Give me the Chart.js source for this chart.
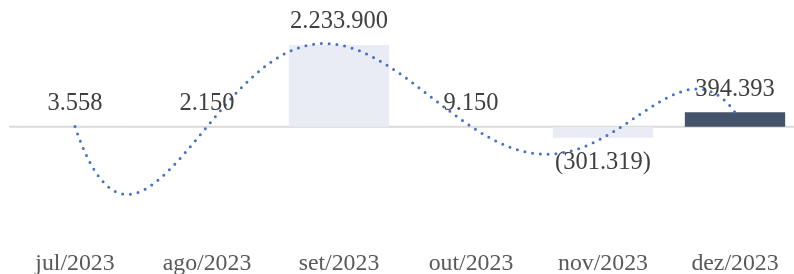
<!DOCTYPE html>
<html>
<head>
<meta charset="utf-8">
<script src="https://cdn.jsdelivr.net/npm/chart.js@4"></script>
<style>
  html, body { margin: 0; padding: 0; overflow: hidden; background: #fff; }
  #wrap { width: 801px; height: 274px; }
</style>
</head>
<body>
<div id="wrap"><canvas id="myChart"></canvas></div>
<script>
// data
var months = ['jul/2023', 'ago/2023', 'set/2023', 'out/2023', 'nov/2023', 'dez/2023'];
var values = [3558, 2150, 2233900, 9150, -301319, 394393];
var barColors = ['#E9EBF5', '#E9EBF5', '#E9EBF5', '#E9EBF5', '#E9EBF5', '#44546A'];

function fmt(v) {
  var s = Math.abs(v).toLocaleString('pt-BR');
  return v < 0 ? '(' + s + ')' : s;
}

// zero line + polynomial trendline (order 5, through all six points) + value labels
var extras = {
  id: 'extras',
  beforeDatasetsDraw: function (chart) {
    var ctx = chart.ctx, y = chart.scales.y, a = chart.chartArea;
    var y0 = y.getPixelForValue(0);
    ctx.save();
    ctx.strokeStyle = '#D9D9D9';
    ctx.lineWidth = 2;
    ctx.beginPath();
    ctx.moveTo(a.left, y0);
    ctx.lineTo(a.right, y0);
    ctx.stroke();
    ctx.restore();
  },
  afterDatasetsDraw: function (chart) {
    var ctx = chart.ctx, xs = chart.scales.x, ys = chart.scales.y;
    var n = values.length;
    var xa = xs.getPixelForValue(0), xb = xs.getPixelForValue(n - 1);
    function poly(t) {
      var s = 0;
      for (var i = 0; i < n; i++) {
        var p = values[i];
        for (var j = 0; j < n; j++) if (j !== i) p *= (t - j) / (i - j);
        s += p;
      }
      return s;
    }
    ctx.save();
    ctx.strokeStyle = '#4472C4';
    ctx.lineWidth = 3;
    ctx.lineCap = 'round';
    ctx.setLineDash([0, 7.8]);
    ctx.beginPath();
    for (var k = 0; k <= 500; k++) {
      var t = k / 500 * (n - 1);
      var px = xa + (xb - xa) * t / (n - 1);
      var py = ys.getPixelForValue(poly(t));
      if (k === 0) ctx.moveTo(px, py); else ctx.lineTo(px, py);
    }
    ctx.stroke();
    ctx.restore();

    // labels
    var meta = chart.getDatasetMeta(0);
    ctx.save();
    ctx.font = '24.5px "Liberation Serif"';
    ctx.fillStyle = '#404040';
    ctx.textAlign = 'center';
    ctx.textBaseline = 'middle';
    meta.data.forEach(function (bar, i) {
      var v = values[i];
      var ly = v < 0 ? bar.y + 25 : bar.y - 23;
      ctx.fillText(fmt(v), bar.x, ly);
    });
    ctx.restore();
  }
};

var ctx = document.getElementById('myChart');
var chart = new Chart(ctx, {
  type: 'bar',
  data: {
    labels: months,
    datasets: [{
      data: values,
      backgroundColor: barColors,
      barPercentage: 0.76,
      categoryPercentage: 1
    }]
  },
  options: {
    responsive: true,
    maintainAspectRatio: false,
    animation: false,
    layout: { padding: { left: 9, right: 0, top: 0, bottom: -6 } },
    plugins: {
      legend: { display: false },
      tooltip: { enabled: false }
    },
    scales: {
      x: {
        grid: { display: false },
        border: { display: false },
        ticks: {
          color: '#595959',
          font: { family: 'Liberation Serif', size: 23.8 },
          padding: 2,
          maxRotation: 0
        }
      },
      y: {
        display: false,
        min: -3078000,
        max: 3460000
      }
    }
  },
  plugins: [extras]
});
</script>
</body>
</html>
